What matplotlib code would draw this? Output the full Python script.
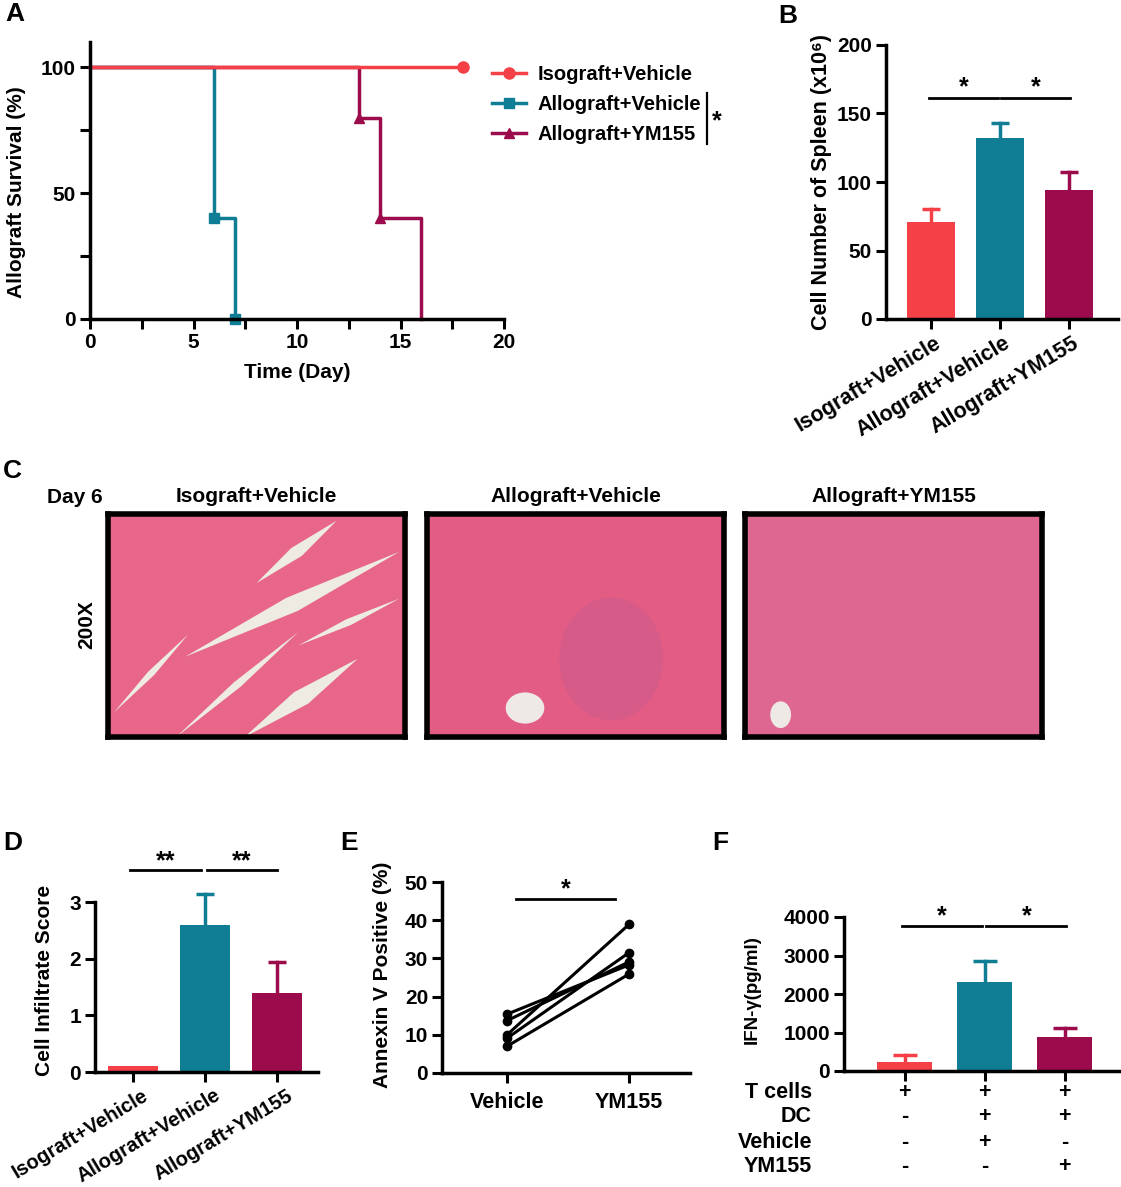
import matplotlib
matplotlib.use('Agg')
import matplotlib.pyplot as plt
import matplotlib.transforms as mtransforms
from matplotlib.lines import Line2D
from matplotlib.patches import Polygon, Ellipse
import numpy as np

plt.rcParams['font.family'] = ['Liberation Sans', 'DejaVu Sans']
plt.rcParams['font.weight'] = 'bold'
plt.rcParams['axes.labelweight'] = 'bold'

RED = '#f44046'
TEAL = '#0f7e94'
WINE = '#9c0b4b'
COLORS = [RED, TEAL, WINE]

# ---- data ----
groups = ['Isograft+Vehicle', 'Allograft+Vehicle', 'Allograft+YM155']

# A: survival
iso_days = [0, 18]
iso_surv = [100, 100]
allo_days = [0, 6, 7]
allo_surv = [100, 40, 0]
ym_days = [0, 13, 14, 16]
ym_surv = [100, 80, 40, 0]

# B: spleen cell number (x10^6)
spleen_mean = [71, 132, 94]
spleen_sem = [9.5, 11, 13]

# D: infiltrate score
infil_mean = [0.1, 2.6, 1.4]
infil_sem = [0, 0.55, 0.55]

# E: annexin V paired
annexin_vehicle = [15.4, 13.7, 10.0, 9.1, 7.0]
annexin_ym155 = [28.3, 29.1, 38.9, 31.5, 25.9]
annexin_groups = ['Vehicle', 'YM155']

# F: IFN-gamma
ifn_mean = [240, 2310, 890]
ifn_sem = [170, 550, 235]
table_rows = ['T cells', 'DC', 'Vehicle', 'YM155']
table_signs = [['+', '+', '+'], ['-', '+', '+'], ['-', '+', '-'], ['-', '-', '+']]

W, H = 1121, 1187
fig = plt.figure(figsize=(W / 100, H / 100), dpi=100)


def fx(x):
    return x / W


def fy(y):
    return 1 - y / H


def px_axes(x0, y0, x1, y1):
    return fig.add_axes([x0 / W, 1 - y1 / H, (x1 - x0) / W, (y1 - y0) / H])


def style(ax, fs=15):
    for s in ('top', 'right'):
        ax.spines[s].set_visible(False)
    for s in ('left', 'bottom'):
        ax.spines[s].set_linewidth(2.5)
    ax.tick_params(which='both', width=2.2, length=7, labelsize=fs, pad=3)


def bars(ax, means, sems, width=0.7, cap=0.13):
    x = np.arange(len(means))
    ax.bar(x, means, width=width, color=COLORS, zorder=2)
    for xi, m, s, c in zip(x, means, sems, COLORS):
        if s > 0:
            ax.plot([xi, xi], [m, m + s], color=c, lw=2.5, zorder=1, clip_on=False)
            ax.plot([xi - cap, xi + cap], [m + s, m + s], color=c, lw=2.5,
                    zorder=1, clip_on=False, solid_capstyle='butt')


def slanted_groups(ax, fs, shift_px):
    ax.set_xticks(range(len(groups)))
    ax.set_xticklabels(groups, rotation=31, ha='right', rotation_mode='anchor', fontsize=fs)
    off = mtransforms.ScaledTranslation(shift_px / 100, 0, fig.dpi_scale_trans)
    for lab in ax.get_xticklabels():
        lab.set_transform(lab.get_transform() + off)


def sig(ax, x0, x1, y, text, dy):
    ax.plot([x0, x1], [y, y], color='k', lw=2, clip_on=False)
    ax.text((x0 + x1) / 2, y + dy, text, ha='center', va='bottom', fontsize=18)


def ylab(x, y, text, fs=15):
    fig.text(fx(x), fy(y), text, rotation=90, ha='center', va='center', fontsize=fs)


def letter(x, y, t):
    fig.text(fx(x), fy(y), t, ha='left', va='center', fontsize=19)


# ---- A ----
axA = px_axes(90, 42, 504, 319)
style(axA)
axA.plot(allo_days, allo_surv, color=TEAL, lw=2.5, drawstyle='steps-post',
         marker='s', ms=7, markevery=[1, 2], clip_on=False)
axA.plot(ym_days, ym_surv, color=WINE, lw=2.5, drawstyle='steps-post',
         marker='^', ms=7, markevery=[1, 2], clip_on=False)
axA.plot(iso_days, iso_surv, color=RED, lw=2.5, marker='o', ms=8, markevery=[1], clip_on=False)
axA.set_xlim(0, 20)
axA.set_ylim(0, 110)
axA.set_xticks(range(0, 21, 5))
axA.set_xticks(np.arange(0, 20.1, 2.5), minor=True)
axA.set_yticks([0, 50, 100])
axA.set_yticks([25, 75], minor=True)
axA.set_xlabel('Time (Day)', fontsize=15, labelpad=8)
ylab(17, 192, 'Allograft Survival (%)')
handles = [Line2D([0], [0], color=RED, lw=2.5, marker='o', ms=8),
           Line2D([0], [0], color=TEAL, lw=2.5, marker='s', ms=7),
           Line2D([0], [0], color=WINE, lw=2.5, marker='^', ms=7)]
fig.legend(handles, groups, loc='upper left', bbox_to_anchor=(fx(492), fy(65)),
           frameon=False, fontsize=14.5, handlelength=1.7, handletextpad=0.55,
           labelspacing=0.54, borderaxespad=0, borderpad=0)
fig.add_artist(Line2D([fx(707), fx(707)], [fy(93), fy(144)], color='k', lw=1.6))
fig.text(fx(712), fy(121), '*', fontsize=18, ha='left', va='center')
letter(5, 14, 'A')

# ---- B ----
axB = px_axes(886, 45, 1118, 319)
style(axB)
bars(axB, spleen_mean, spleen_sem, cap=0.13)
axB.set_xlim(-0.652, 2.71)
axB.set_ylim(0, 200)
axB.set_yticks(range(0, 201, 50))
slanted_groups(axB, 15.5, 3)
sig(axB, -0.03, 0.97, 161, '*', -1)
sig(axB, 1.02, 2.02, 161, '*', -1)
ylab(822, 182, 'Cell Number of Spleen (x10\u2076)', fs=15.5)
letter(778, 16, 'B')

# ---- C ----
letter(3, 471, 'C')
fig.text(fx(75), fy(498), 'Day 6', ha='center', va='center', fontsize=15)
fig.text(fx(87), fy(625), '200X', rotation=90, ha='center', va='center', fontsize=15)
boxes = [(108, 514, 405, 737), (427, 514, 724, 737), (745, 514, 1042, 737)]
tissue = ['#e7668a', '#e25c84', '#dd6790']
# pale gaps between fibre bundles in the isograft section: (x0, y0, x1, y1, width)
streaks = [(0.50, 0.69, 0.77, 0.97, 0.05), (0.26, 0.36, 0.98, 0.83, 0.07),
           (0.23, 0.00, 0.64, 0.47, 0.03), (0.46, 0.00, 0.84, 0.35, 0.07),
           (0.02, 0.11, 0.27, 0.46, 0.025), (0.64, 0.41, 0.98, 0.62, 0.03)]
for (x0, y0, x1, y1), title, col in zip(boxes, groups, tissue):
    axC = px_axes(x0, y0, x1, y1)
    axC.set_facecolor(col)
    axC.set_xlim(0, 1)
    axC.set_ylim(0, 1)
    axC.set_xticks([])
    axC.set_yticks([])
    for s in axC.spines.values():
        s.set_linewidth(4)
    fig.text(fx((x0 + x1) / 2), fy(497), title, ha='center', va='center', fontsize=15)
    if title == groups[0]:
        for a, b, c, d, w in streaks:
            dx, dy = c - a, d - b
            n = np.hypot(dx, dy)
            nx, ny = -dy / n * w / 2, dx / n * w / 2
            mx, my = (a + c) / 2, (b + d) / 2
            axC.add_patch(Polygon([(a, b), (mx + nx, my + ny), (c, d), (mx - nx, my - ny)],
                                  closed=True, color='#eeebe2', lw=0))
    elif title == groups[1]:
        axC.add_patch(Ellipse((0.33, 0.13), 0.13, 0.14, color='#efe9e6', lw=0))
        axC.add_patch(Ellipse((0.62, 0.35), 0.35, 0.55, color='#b45a9a', alpha=0.25, lw=0))
    else:
        axC.add_patch(Ellipse((0.12, 0.1), 0.07, 0.12, color='#efe9e6', lw=0))

# ---- D ----
axD = px_axes(95, 902, 318, 1072)
style(axD)
bars(axD, infil_mean, infil_sem, cap=0.13)
axD.set_xlim(-0.528, 2.57)
axD.set_ylim(0, 3)
axD.set_yticks([0, 1, 2, 3])
slanted_groups(axD, 14.5, 9)
sig(axD, -0.04, 0.95, 3.56, '**', -0.05)
sig(axD, 1.03, 2.0, 3.56, '**', -0.05)
ylab(45, 980, 'Cell Infiltrate Score')
letter(3, 843, 'D')

# ---- E ----
axE = px_axes(442, 882, 690, 1073)
style(axE)
for v, y in zip(annexin_vehicle, annexin_ym155):
    axE.plot([0, 1], [v, y], color='k', lw=2.2, marker='o', ms=6, clip_on=False)
axE.set_xlim(-0.533, 1.5)
axE.set_ylim(0, 50)
axE.set_yticks(range(0, 51, 10))
axE.set_xticks([0, 1])
axE.set_xticklabels(annexin_groups, fontsize=15.5)
axE.tick_params(axis='x', pad=7)
sig(axE, 0.07, 0.885, 45.5, '*', -0.5)
ylab(382, 975, 'Annexin V Positive (%)')
letter(340, 843, 'E')

# ---- F ----
axF = px_axes(844, 917, 1120, 1071)
style(axF)
bars(axF, ifn_mean, ifn_sem, width=0.69, cap=0.15)
axF.set_xlim(-0.756, 2.69)
axF.set_ylim(0, 4000)
axF.set_yticks(range(0, 4001, 1000))
axF.set_xticks(range(3))
axF.set_xticklabels([])
sig(axF, -0.03, 0.97, 3760, '*', -50)
sig(axF, 1.02, 2.02, 3760, '*', -50)
ylab(752, 990, 'IFN-\u03b3(pg/ml)', fs=13.5)
trans = mtransforms.blended_transform_factory(axF.transData, fig.transFigure)
row_y = [1092, 1117, 1142, 1167]
for name, signs, yy in zip(table_rows, table_signs, row_y):
    fig.text(fx(812), fy(yy), name, ha='right', va='center', fontsize=15.5)
    for xi, s in enumerate(signs):
        axF.text(xi, fy(yy), s, transform=trans, ha='center', va='center', fontsize=15.5)
letter(712, 843, 'F')

fig.savefig('out.png', dpi=100)
